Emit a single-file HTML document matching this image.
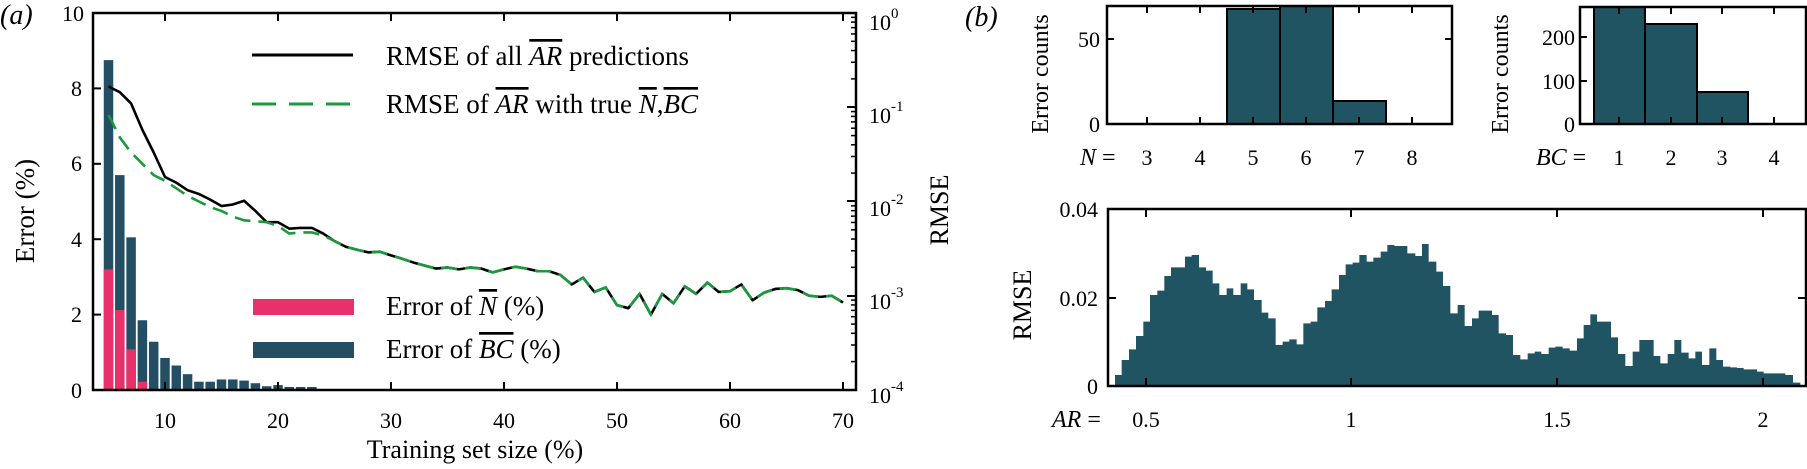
<!DOCTYPE html>
<html><head><meta charset="utf-8"><style>
html,body{margin:0;padding:0;background:#fff;}
svg{display:block;}
svg text{font-family:"Liberation Serif","Times New Roman",serif;}
</style></head><body>
<svg width="1807" height="469" viewBox="0 0 1807 469" xmlns="http://www.w3.org/2000/svg" font-family="Liberation Serif, serif">
<defs>
<g id="minor">
<line x1="0" y1="-28.4" x2="-5" y2="-28.4"/><line x1="0" y1="-45" x2="-5" y2="-45"/>
<line x1="0" y1="-56.7" x2="-5" y2="-56.7"/><line x1="0" y1="-65.9" x2="-5" y2="-65.9"/>
<line x1="0" y1="-73.3" x2="-5" y2="-73.3"/><line x1="0" y1="-79.6" x2="-5" y2="-79.6"/>
<line x1="0" y1="-85.1" x2="-5" y2="-85.1"/><line x1="0" y1="-89.9" x2="-5" y2="-89.9"/>
</g>
</defs>

<!-- ===== Panel (a) ===== -->
<text x="0" y="24" font-size="28" font-style="italic">(a)</text>
<g transform="translate(52,390) scale(11.3,-37.7)">
<g fill="#234e63">
<rect x="4.58" y="0" width="0.84" height="8.75"/>
<rect x="5.58" y="0" width="0.84" height="5.7"/>
<rect x="6.58" y="0" width="0.84" height="4.05"/>
<rect x="7.58" y="0" width="0.84" height="1.85"/>
<rect x="8.58" y="0" width="0.84" height="1.28"/>
<rect x="9.58" y="0" width="0.84" height="0.85"/>
<rect x="10.58" y="0" width="0.84" height="0.65"/>
<rect x="11.58" y="0" width="0.84" height="0.42"/>
<rect x="12.58" y="0" width="0.84" height="0.22"/>
<rect x="13.58" y="0" width="0.84" height="0.22"/>
<rect x="14.58" y="0" width="0.84" height="0.28"/>
<rect x="15.58" y="0" width="0.84" height="0.28"/>
<rect x="16.58" y="0" width="0.84" height="0.25"/>
<rect x="17.58" y="0" width="0.84" height="0.18"/>
<rect x="18.58" y="0" width="0.84" height="0.1"/>
<rect x="19.58" y="0" width="0.84" height="0.13"/>
<rect x="20.58" y="0" width="0.84" height="0.08"/>
<rect x="21.58" y="0" width="0.84" height="0.08"/>
<rect x="22.58" y="0" width="0.84" height="0.08"/>
</g>
<g fill="#e8306b">
<rect x="4.58" y="0" width="0.84" height="3.2"/>
<rect x="5.58" y="0" width="0.84" height="2.12"/>
<rect x="6.58" y="0" width="0.84" height="1.08"/>
<rect x="7.58" y="0" width="0.84" height="0.22"/>
</g>
<polyline fill="none" stroke="#000" stroke-width="2.6" vector-effect="non-scaling-stroke" stroke-linejoin="round"
points="5,8.05 6,7.9 7,7.6 8,6.9 9,6.3 10,5.65 11,5.5 12,5.3 13,5.2 14,5.05 15,4.88 16,4.92 17,5.02 18,4.75 19,4.45 20,4.45 21,4.28 22,4.3 23,4.3 24,4.15 25,3.95 26,3.8 27,3.72 28,3.65 29,3.67 30,3.57 31,3.48 32,3.38 33,3.3 34,3.22 35,3.25 36,3.2 37,3.25 38,3.22 39,3.12 40,3.2 41,3.27 42,3.22 43,3.15 44,3.15 45,3.05 46,2.8 47,2.98 48,2.6 49,2.72 50,2.25 51,2.17 52,2.55 53,2.0 54,2.55 55,2.3 56,2.75 57,2.55 58,2.85 59,2.6 60,2.62 61,2.8 62,2.38 63,2.58 64,2.68 65,2.7 66,2.65 67,2.5 68,2.47 69,2.5 70,2.32"/>
<polyline fill="none" stroke="#1a9a3c" stroke-width="2.6" vector-effect="non-scaling-stroke" stroke-dasharray="16 8"
points="5,7.3 6,6.7 7,6.3 8,6.0 9,5.7 10,5.55 11,5.35 12,5.15 13,5.0 14,4.85 15,4.75 16,4.6 17,4.5 18,4.48 19,4.45 20,4.35 21,4.15 22,4.18 23,4.18 24,4.1 25,3.95 26,3.8 27,3.72 28,3.65 29,3.67 30,3.57 31,3.48 32,3.38 33,3.3 34,3.22 35,3.25 36,3.2 37,3.25 38,3.22 39,3.12 40,3.2 41,3.27 42,3.22 43,3.15 44,3.15 45,3.05 46,2.8 47,2.98 48,2.6 49,2.72 50,2.25 51,2.17 52,2.55 53,2.0 54,2.55 55,2.3 56,2.75 57,2.55 58,2.85 59,2.6 60,2.62 61,2.8 62,2.38 63,2.58 64,2.68 65,2.7 66,2.65 67,2.5 68,2.47 69,2.5 70,2.32"/>
</g>
<rect x="93" y="13" width="763" height="377" fill="none" stroke="#000" stroke-width="2.5"/>
<g stroke="#000" stroke-width="2">
<line x1="165" y1="390" x2="165" y2="382"/><line x1="278" y1="390" x2="278" y2="382"/><line x1="391" y1="390" x2="391" y2="382"/><line x1="504" y1="390" x2="504" y2="382"/><line x1="617" y1="390" x2="617" y2="382"/><line x1="730" y1="390" x2="730" y2="382"/><line x1="843" y1="390" x2="843" y2="382"/>
<line x1="165" y1="13" x2="165" y2="21"/><line x1="278" y1="13" x2="278" y2="21"/><line x1="391" y1="13" x2="391" y2="21"/><line x1="504" y1="13" x2="504" y2="21"/><line x1="617" y1="13" x2="617" y2="21"/><line x1="730" y1="13" x2="730" y2="21"/><line x1="843" y1="13" x2="843" y2="21"/>
<line x1="93" y1="88.4" x2="101" y2="88.4"/><line x1="93" y1="163.8" x2="101" y2="163.8"/><line x1="93" y1="239.2" x2="101" y2="239.2"/><line x1="93" y1="314.6" x2="101" y2="314.6"/>
<line x1="856" y1="107" x2="847" y2="107"/><line x1="856" y1="201" x2="847" y2="201"/><line x1="856" y1="296" x2="847" y2="296"/>
</g>
<g stroke="#000" stroke-width="1.5">
<use href="#minor" transform="translate(856,390)"/>
<use href="#minor" transform="translate(856,295.75)"/>
<use href="#minor" transform="translate(856,201.5)"/>
<use href="#minor" transform="translate(856,107.25)"/>
</g>
<g font-size="22" text-anchor="end">
<text x="82" y="398">0</text><text x="82" y="322">2</text><text x="82" y="247">4</text><text x="82" y="171">6</text><text x="82" y="96">8</text><text x="84" y="21">10</text>
</g>
<g font-size="22" text-anchor="middle">
<text x="165" y="428">10</text><text x="278" y="428">20</text><text x="391" y="428">30</text><text x="504" y="428">40</text><text x="617" y="428">50</text><text x="730" y="428">60</text><text x="843" y="428">70</text>
</g>
<g font-size="22">
<text x="869" y="30">10<tspan font-size="15" dy="-12">0</tspan></text>
<text x="869" y="123">10<tspan font-size="15" dy="-12">-1</tspan></text>
<text x="869" y="216">10<tspan font-size="15" dy="-12">-2</tspan></text>
<text x="869" y="309">10<tspan font-size="15" dy="-12">-3</tspan></text>
<text x="869" y="403">10<tspan font-size="15" dy="-12">-4</tspan></text>
</g>
<text x="475" y="458" font-size="26" text-anchor="middle">Training set size (%)</text>
<text transform="translate(34,211) rotate(-90)" font-size="27" text-anchor="middle">Error (%)</text>
<text transform="translate(948,210) rotate(-90)" font-size="26" text-anchor="middle">RMSE</text>
<line x1="252" y1="55" x2="353" y2="55" stroke="#000" stroke-width="3"/>
<line x1="252" y1="104" x2="353" y2="104" stroke="#1a9a3c" stroke-width="3" stroke-dasharray="24 13"/>
<rect x="253" y="299" width="101" height="16" fill="#e8306b"/>
<rect x="253" y="342" width="101" height="16" fill="#234e63"/>
<g font-size="27">
<text x="386" y="65">RMSE of all <tspan font-style="italic" text-decoration="overline">AR</tspan> predictions</text>
<text x="386" y="113">RMSE of <tspan font-style="italic" text-decoration="overline">AR</tspan> with true <tspan font-style="italic" text-decoration="overline">N</tspan>,<tspan font-style="italic" text-decoration="overline">BC</tspan></text>
<text x="386" y="315">Error of <tspan font-style="italic" text-decoration="overline">N</tspan> (%)</text>
<text x="386" y="358">Error of <tspan font-style="italic" text-decoration="overline">BC</tspan> (%)</text>
</g>

<!-- ===== Panel (b) ===== -->
<text x="965" y="26" font-size="28" font-style="italic">(b)</text>
<g fill="#215463" stroke="#000" stroke-width="2">
<rect x="1227" y="9" width="53" height="115"/>
<rect x="1280" y="6" width="53" height="118"/>
<rect x="1333" y="101" width="53" height="23"/>
</g>
<rect x="1107" y="6" width="345" height="118" fill="none" stroke="#000" stroke-width="2.5"/>
<g stroke="#000" stroke-width="2">
<line x1="1147" y1="124" x2="1147" y2="117"/><line x1="1200" y1="124" x2="1200" y2="117"/><line x1="1253" y1="124" x2="1253" y2="117"/><line x1="1306" y1="124" x2="1306" y2="117"/><line x1="1359" y1="124" x2="1359" y2="117"/><line x1="1412" y1="124" x2="1412" y2="117"/>
<line x1="1147" y1="6" x2="1147" y2="13"/><line x1="1200" y1="6" x2="1200" y2="13"/><line x1="1253" y1="6" x2="1253" y2="13"/><line x1="1306" y1="6" x2="1306" y2="13"/><line x1="1359" y1="6" x2="1359" y2="13"/><line x1="1412" y1="6" x2="1412" y2="13"/>
<line x1="1107" y1="39" x2="1114" y2="39"/><line x1="1452" y1="39" x2="1445" y2="39"/>
</g>
<g font-size="22" text-anchor="end"><text x="1100" y="47">50</text><text x="1100" y="132">0</text></g>
<g font-size="22" text-anchor="middle"><text x="1147" y="165">3</text><text x="1200" y="165">4</text><text x="1253" y="165">5</text><text x="1306" y="165">6</text><text x="1359" y="165">7</text><text x="1412" y="165">8</text></g>
<text x="1080" y="165" font-size="24"><tspan font-style="italic">N</tspan> =</text>
<text transform="translate(1048,74) rotate(-90)" font-size="24" text-anchor="middle">Error counts</text>
<g fill="#215463" stroke="#000" stroke-width="2">
<rect x="1594" y="7" width="51" height="117"/>
<rect x="1645" y="24" width="52" height="100"/>
<rect x="1697" y="92" width="51" height="32"/>
</g>
<rect x="1580" y="7" width="226" height="117" fill="none" stroke="#000" stroke-width="2.5"/>
<g stroke="#000" stroke-width="2">
<line x1="1619" y1="124" x2="1619" y2="117"/><line x1="1671" y1="124" x2="1671" y2="117"/><line x1="1722" y1="124" x2="1722" y2="117"/><line x1="1774" y1="124" x2="1774" y2="117"/>
<line x1="1619" y1="7" x2="1619" y2="14"/><line x1="1671" y1="7" x2="1671" y2="14"/><line x1="1722" y1="7" x2="1722" y2="14"/><line x1="1774" y1="7" x2="1774" y2="14"/>
<line x1="1580" y1="37" x2="1587" y2="37"/><line x1="1580" y1="81" x2="1587" y2="81"/>
</g>
<g font-size="22" text-anchor="end"><text x="1575" y="45">200</text><text x="1575" y="89">100</text><text x="1575" y="132">0</text></g>
<g font-size="22" text-anchor="middle"><text x="1619" y="165">1</text><text x="1671" y="165">2</text><text x="1722" y="165">3</text><text x="1774" y="165">4</text></g>
<text x="1536" y="165" font-size="24"><tspan font-style="italic">BC</tspan> =</text>
<text transform="translate(1508,74) rotate(-90)" font-size="24" text-anchor="middle">Error counts</text>
<g fill="#215463">
<path transform="translate(1100,0) scale(0.33333)" d="M45,1160 V1125 H65 V1080 H87 V1048 H108 V1008 H130 V965 H150 V885 H172 V872 H193 V828 H213 V802 H255 V770 H275 V765 H297 V802 H318 V812 H338 V850 H358 V885 H380 V865 H400 V885 H422 V850 H442 V868 H462 V900 H485 V938 H505 V955 H527 V1035 H548 V1025 H568 V1018 H590 V1033 H610 V970 H632 V965 H652 V922 H675 V903 H695 V868 H717 V825 H737 V793 H758 V788 H778 V765 H800 V785 H820 V773 H842 V755 H862 V735 H883 V738 H922 V1160 Z"/>
<path transform="translate(1407,0) scale(0.33333)" d="M0,1160 V760 H25 V768 H45 V732 H65 V785 H88 V815 H108 V858 H130 V940 H152 V915 H173 V978 H195 V955 H215 V932 H255 V945 H275 V1000 H297 V1005 H318 V1065 H340 V1078 H362 V1060 H383 V1055 H403 V1062 H425 V1043 H445 V1040 H467 V1045 H488 V1052 H510 V1015 H530 V975 H550 V943 H570 V965 H590 V965 H612 V1012 H633 V1062 H655 V1098 H677 V1055 H697 V1020 H740 V1068 H760 V1090 H782 V1062 H802 V1020 H823 V1058 H845 V1075 H865 V1055 H885 V1095 H907 V1045 H928 V1080 H948 V1100 H970 V1102 H990 V1104 H1010 V1108 H1050 V1115 H1070 V1120 H1135 V1125 H1158 V1148 H1180 V1155 H1195 V1160 Z"/>
</g>
<rect x="1108" y="209" width="698" height="177" fill="none" stroke="#000" stroke-width="2.5"/>
<g stroke="#000" stroke-width="2">
<line x1="1146" y1="386" x2="1146" y2="378"/><line x1="1351" y1="386" x2="1351" y2="378"/><line x1="1557" y1="386" x2="1557" y2="378"/><line x1="1763" y1="386" x2="1763" y2="378"/>
<line x1="1146" y1="209" x2="1146" y2="217"/><line x1="1351" y1="209" x2="1351" y2="217"/><line x1="1557" y1="209" x2="1557" y2="217"/><line x1="1763" y1="209" x2="1763" y2="217"/>
<line x1="1108" y1="298" x2="1116" y2="298"/><line x1="1806" y1="298" x2="1798" y2="298"/>
</g>
<g font-size="22" text-anchor="end"><text x="1098" y="217">0.04</text><text x="1098" y="306">0.02</text><text x="1098" y="394">0</text></g>
<g font-size="22" text-anchor="middle"><text x="1146" y="427">0.5</text><text x="1351" y="427">1</text><text x="1557" y="427">1.5</text><text x="1763" y="427">2</text></g>
<text x="1052" y="427" font-size="24"><tspan font-style="italic">AR</tspan> =</text>
<text transform="translate(1031,305) rotate(-90)" font-size="26" text-anchor="middle">RMSE</text>
</svg>
</body></html>
